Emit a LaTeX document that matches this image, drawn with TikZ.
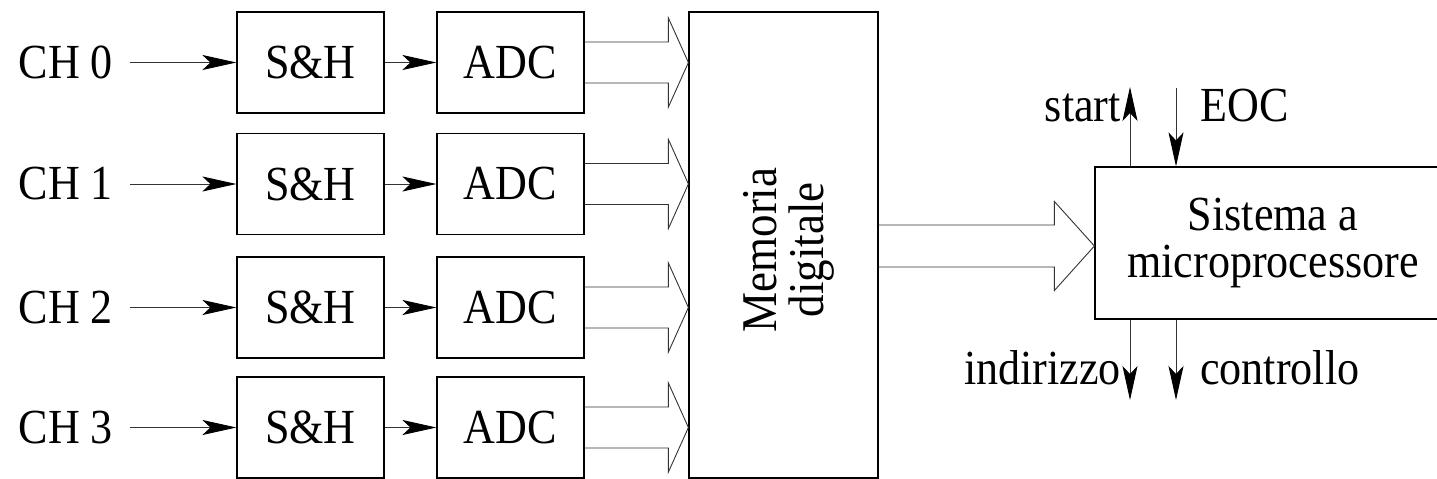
\documentclass[tikz,border=0pt]{standalone}
\usepackage{fontspec}
\setmainfont{Liberation Serif}[FakeStretch=0.9]
\usetikzlibrary{arrows.meta,calc}
\begin{document}
\begin{tikzpicture}[x=1pt,y=-1pt,
  txt/.style={font=\fontsize{49}{47}\selectfont},
  box/.style={draw=black, line width=1.2pt, minimum width=147pt, minimum height=101pt, inner sep=0pt, txt},
  lbl/.style={inner sep=0pt, txt},
  sig/.style={line width=0.9pt, draw=black!80, -{Stealth[length=34pt,width=15pt,inset=8pt,color=black]}},
  bus/.style={line width=0.9pt, draw=black!80},
]
\clip (0,0) rectangle (1437,479);
\fill[white] (0,0) rectangle (1437,479);

\node[draw=black, line width=1.2pt, minimum width=189pt, minimum height=466pt, inner sep=0pt] (mem) at (783.5,245) {};
\node[lbl, rotate=90, align=center, font=\fontsize{50}{47}\selectfont] (memtext) at (789,250) {Memoria\\digitale};

\foreach \i/\y in {0/62.5,1/184,2/307.5,3/427.5} {
  \node[box] (sh\i) at (310.5,\y) {S\&H};
  \node[box] (adc\i) at (510.5,\y) {ADC};
  \node[lbl, anchor=east, outer xsep=17pt] (ch\i) at (130,\y) {CH \i};
  \draw[sig] (ch\i) -- (sh\i);
  \draw[sig] (sh\i) -- (adc\i);
  \draw[bus] ($(adc\i.east)+(0,-20.5)$) -- ($(mem.west|-adc\i.east)+(-20,-20.5)$)
    -- ($(mem.west|-adc\i.east)+(-20,-44.5)$) -- (mem.west|-adc\i.east)
    -- ($(mem.west|-adc\i.east)+(-20,44.5)$) -- ($(mem.west|-adc\i.east)+(-20,20.5)$)
    -- ($(adc\i.east)+(0,20.5)$);
}

\node[draw=black, line width=1.2pt, minimum width=356pt, minimum height=152pt, inner sep=0pt, align=center, txt] (mp) at (1273,243) {Sistema a\\microprocessore};

\coordinate (bigtip) at ($(mp.west)+(0,3)$);
\draw[bus] ($(mem.east|-bigtip)+(0,-21)$) -- ($(bigtip)+(-40,-21)$)
  -- ($(bigtip)+(-40,-44.5)$) -- (bigtip)
  -- ($(bigtip)+(-40,44.5)$) -- ($(bigtip)+(-40,21)$)
  -- ($(mem.east|-bigtip)+(0,21)$);

\coordinate (st) at (1130,87);
\coordinate (eo) at (1176,88);
\coordinate (ind) at (1130,400);
\coordinate (ctl) at (1176,400);
\draw[sig] (mp.north -| st) -- (st);
\draw[sig] (eo) -- (mp.north -| eo);
\draw[sig] (mp.south -| ind) -- (ind);
\draw[sig] (mp.south -| ctl) -- (ctl);

\node[lbl, anchor=base east] (lstart) at (1121,121) {start};
\node[lbl, anchor=base west] (leoc) at (1200,121) {EOC};
\node[lbl, anchor=base east] (lind) at (1121,384) {indirizzo};
\node[lbl, anchor=base west] (lctl) at (1200,384) {controllo};
\end{tikzpicture}
\end{document}
